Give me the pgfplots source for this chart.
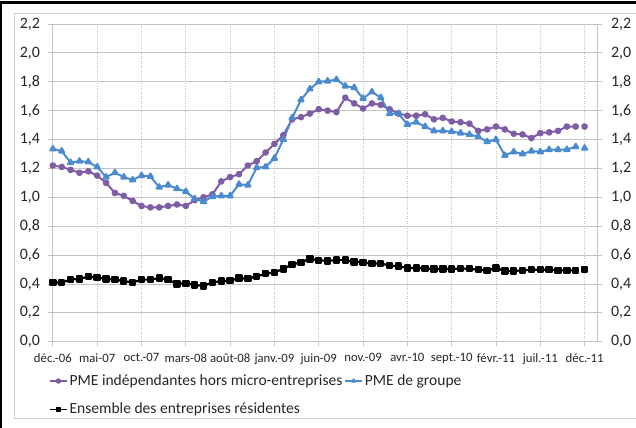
\documentclass[border=0pt]{standalone}
\usepackage{fontspec}
\setmainfont{Carlito}
\usepackage{pgfplots}
\usepackage{pgfplotstable}
\pgfplotsset{compat=1.18}

\definecolor{violetpme}{HTML}{7E5CA6}
\definecolor{bleupme}{HTML}{4A8BD0}
\definecolor{grille}{HTML}{C4C4C4}
\definecolor{cadre}{HTML}{D0D0D0}
\definecolor{texte}{HTML}{262626}

% mois 0 = déc.-06 ... 60 = déc.-11 ; le dernier point n'est pas relié
\pgfplotstableread{
mois indep groupe ens
0  1.22  1.335 0.41
1  1.21  1.32  0.41
2  1.19  1.24  0.43
3  1.17  1.25  0.435
4  1.18  1.245 0.45
5  1.15  1.21  0.445
6  1.10  1.14  0.435
7  1.03  1.17  0.43
8  1.01  1.14  0.42
9  0.975 1.12  0.41
10 0.94  1.15  0.43
11 0.93  1.145 0.43
12 0.93  1.07  0.44
13 0.94  1.085 0.43
14 0.95  1.06  0.40
15 0.94  1.04  0.405
16 0.98  0.99  0.393
17 1.00  0.97  0.386
18 1.02  1.005 0.41
19 1.11  1.01  0.42
20 1.14  1.01  0.423
21 1.16  1.09  0.44
22 1.22  1.085 0.436
23 1.25  1.205 0.453
24 1.31  1.21  0.471
25 1.37  1.27  0.48
26 1.43  1.40  0.504
27 1.54  1.55  0.535
28 1.555 1.675 0.55
29 1.58  1.75  0.574
30 1.61  1.80  0.563
31 1.60  1.805 0.56
32 1.59  1.815 0.565
33 1.69  1.77  0.565
34 1.65  1.76  0.553
35 1.615 1.685 0.55
36 1.65  1.73  0.54
37 1.64  1.69  0.542
38 1.61  1.58  0.527
39 1.58  1.58  0.523
40 1.565 1.505 0.51
41 1.565 1.52  0.51
42 1.575 1.49  0.507
43 1.54  1.46  0.504
44 1.55  1.46  0.504
45 1.525 1.455 0.503
46 1.52  1.445 0.507
47 1.51  1.435 0.505
48 1.46  1.42  0.498
49 1.47  1.385 0.494
50 1.49  1.40  0.51
51 1.47  1.29  0.49
52 1.44  1.315 0.49
53 1.435 1.30  0.494
54 1.41  1.32  0.498
55 1.445 1.315 0.498
56 1.45  1.33  0.498
57 1.46  1.33  0.494
58 1.49  1.33  0.494
59 1.49  1.35  0.494
59.5 nan nan  nan
60 1.49  1.34  0.498
}\data

\pgfplotsset{
  cadrebase/.style={
    at={(52bp,86.3bp)}, anchor=south west, scale only axis,
    width=545bp, height=317.7bp,
    xmin=-0.1, xmax=61.4, ymin=0, ymax=2.2,
    ytick={0,0.2,0.4,0.6,0.8,1,1.2,1.4,1.6,1.8,2,2.2},
    yticklabels={{0,0},{0,2},{0,4},{0,6},{0,8},{1,0},{1,2},{1,4},{1,6},{1,8},{2,0},{2,2}},
    axis line style={grille, line width=0.8bp},
    tick style={grille, line width=0.8bp},
    tick align=outside, major tick length=4.5bp,
  },
}

\begin{document}
\begin{tikzpicture}
\path[use as bounding box] (0,0) rectangle (636bp,428bp);
\fill[black] (0,424bp) rectangle (636bp,427bp);
\fill[black] (0,0) rectangle (2bp,427bp);
\draw[cadre, line width=0.8bp] (14bp,10bp) rectangle (650bp,415bp);

\begin{axis}[
  cadrebase,
  xtick={0,5,10,15,20,25,30,35,40,45,50,55,60},
  xticklabels={déc.-06,mai-07,oct.-07,mars-08,août-08,janv.-09,juin-09,nov.-09,avr.-10,sept.-10,févr.-11,juil.-11,déc.-11},
  xticklabel style={font=\fontsize{12.8}{14}\selectfont, text=texte, yshift=-4bp},
  yticklabel style={font=\fontsize{16}{18}\selectfont, text=texte, xshift=-4bp},
  xtick pos=bottom, ytick pos=left,
  xmajorgrids, ymajorgrids,
  x grid style={grille, line width=0.8bp, dash pattern=on 1bp off 1.5bp},
  y grid style={grille, line width=0.8bp},
  unbounded coords=jump,
  legend columns=2,
  legend cell align=left,
  legend image post style={line width=1.4bp, mark size=2bp},
  legend style={at={(0,0)}, anchor=north west, xshift=-3bp, yshift=-31bp,
    draw=none, fill=none, inner sep=0pt, row sep=12bp,
    font=\fontsize{15.6}{17}\selectfont, text=texte,
    /tikz/every even column/.append style={column sep=0bp}},
]
\addplot[violetpme, line width=2bp, line join=round, mark=*, mark size=2.3bp,
  mark options={solid, fill=violetpme}] table[x=mois, y=indep] {\data};
\addlegendentry{PME indépendantes hors micro-entreprises}
\addplot[bleupme, line width=2bp, line join=round, mark=triangle*, mark size=3bp,
  mark options={solid, fill=bleupme}] table[x=mois, y=groupe] {\data};
\addlegendentry{PME de groupe}
\addplot[black, line width=2.2bp, line join=round, mark=square*, mark size=2.6bp,
  mark options={solid, fill=black}] table[x=mois, y=ens] {\data};
\addlegendentry{Ensemble des entreprises résidentes}
\end{axis}

\begin{axis}[
  cadrebase,
  hide x axis,
  axis y line*=right,
  yticklabel style={font=\fontsize{16}{18}\selectfont, text=texte, xshift=6bp},
]
\addplot[draw=none, forget plot] coordinates {(0,0)};
\end{axis}
\end{tikzpicture}
\end{document}
